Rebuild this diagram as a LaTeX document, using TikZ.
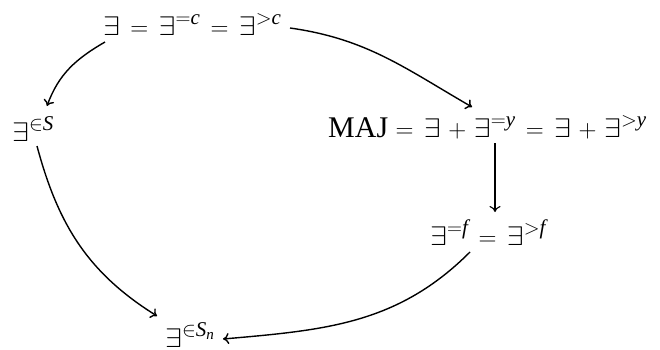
\documentclass[tikz,border=0pt]{standalone}
\usetikzlibrary{arrows.meta}
\usepackage{amsmath}
\usepackage{graphicx}
\usepackage{fontspec}
\setmainfont{Liberation Serif}
\newcommand{\ti}[1]{\textit{#1}}
\newcommand{\Ex}{\mathord{\scalebox{1.22}[1.08]{$\exists$}}}
\thickmuskip=7.5mu plus 2mu
\medmuskip=5.5mu plus 2mu
\begin{document}
\begin{tikzpicture}[x=1pt,y=-1pt,
  lbl/.style={inner sep=0pt, anchor=base west, font=\fontsize{30}{34}\selectfont},
  arr/.style={-{To[length=6pt,width=11pt]}, line width=1.4pt},
  ]
\useasboundingbox (0,0) rectangle (660,349);
\node[lbl] (top) at (103,35) {$\Ex = \Ex^{=\ti{c}} = \Ex^{>\ti{c}}$};
\node[lbl] (left) at (12,141) {$\Ex^{\in \ti{S}}$};
\node[lbl] (maj) at (328,137) {MAJ $= \Ex + \Ex^{=\ti{y}} = \Ex + \Ex^{>\ti{y}}$};
\node[lbl] (f) at (430,245) {$\Ex^{=\ti{f}} = \Ex^{>\ti{f}}$};
\node[lbl] (bot) at (165,347) {$\Ex^{\in \ti{S}_{\ti{n}}}$};
\coordinate (a1s) at (105,42);
\coordinate (a1e) at (47,106);
\draw[arr] (a1s) to[out=-150, in=70] (a1e);
\coordinate (a2s) at (290,28);
\coordinate (a2e) at (472,107);
\draw[arr] (a2s) to[out=-8, in=150] (a2e);
\coordinate (a3s) at (495,143);
\coordinate (a3e) at (495,212);
\draw[arr, line width=1.1pt] (a3s) -- (a3e);
\coordinate (a5s) at (37,146);
\coordinate (a5e) at (157,316);
\draw[arr] (a5s) to[out=-75, in=148] (a5e);
\coordinate (a4s) at (470,252);
\coordinate (a4e) at (223,339);
\draw[arr] (a4s) to[out=-135, in=5] (a4e);
\end{tikzpicture}
\end{document}
